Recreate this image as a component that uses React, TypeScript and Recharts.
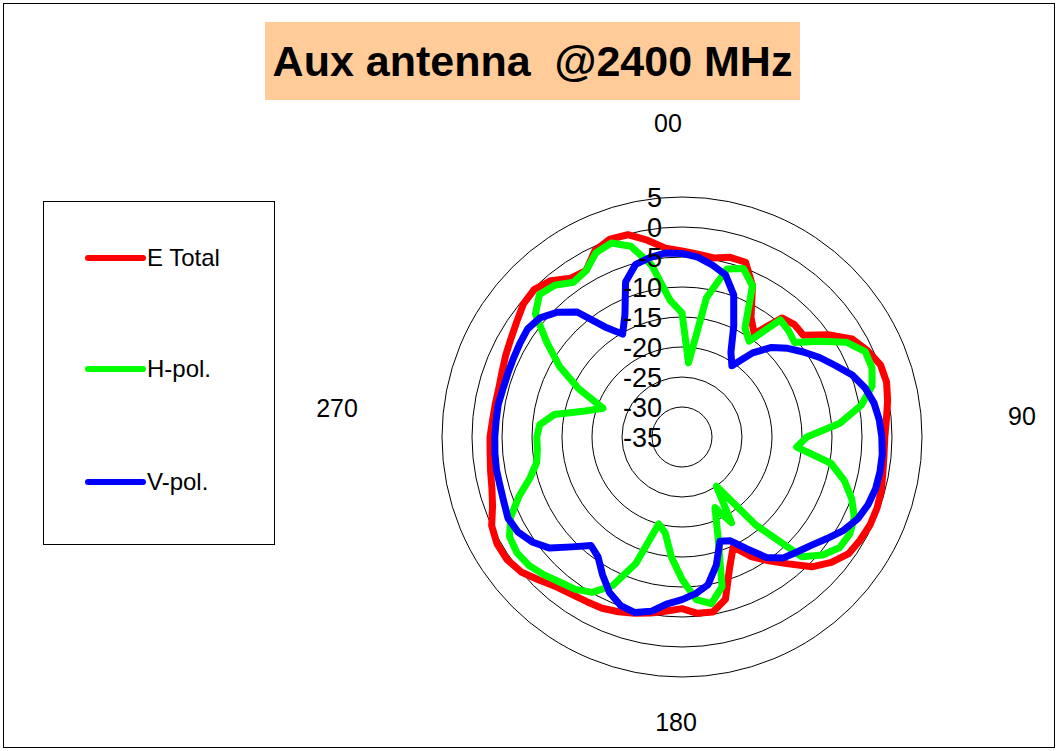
import { RadarChart, Radar, PolarGrid, PolarAngleAxis, PolarRadiusAxis, Legend } from "recharts";

const ANGLES = [
  0, 5, 10, 15, 20, 25, 30, 35, 40, 45, 50, 55, 60, 65, 70, 75, 80, 85,
  90, 95, 100, 105, 110, 115, 120, 125, 130, 135, 140, 145, 150, 155, 160, 165, 170, 175,
  180, 185, 190, 195, 200, 205, 210, 215, 220, 225, 230, 235, 240, 245, 250, 255, 260, 265,
  270, 275, 280, 285, 290, 295, 300, 305, 310, 315, 320, 325, 330, 335, 340, 345, 350, 355,
];

const E_TOTAL = [
  -4.0, -4.4, -4.7, -4.0, -4.0, -7.2, -12.0, -14.0, -9.1, -8.5, -8.6, -5.3, -2.3, -0.9, 0.2, 0.3, -0.2, -0.8,
  -1.2, -1.2, -1.0, -0.6, -0.4, -0.4, -0.7, -1.1, -2.5, -4.4, -7.4, -9.8, -12.0, -14.8, -11.8, -7.0, -5.4, -5.5,
  -6.4, -5.9, -5.2, -4.6, -4.0, -3.5, -3.3, -3.0, -2.4, -1.3, 0.0, 0.6, 0.6, 0.0, -1.4, -2.2, -2.6, -2.9,
  -3.0, -3.3, -3.4, -3.4, -3.1, -2.6, -2.1, -1.4, -0.5, -0.2, -1.0, -2.7, -3.0, -0.7, 0.1, -0.1, -1.7, -3.4,
];

const H_POL = [
  -14.3, -22.6, -11.4, -6.0, -5.1, -7.2, -14.0, -15.5, -9.5, -9.9, -10.5, -7.2, -3.4, -1.3, -1.3, -2.2, -4.7, -8.6,
  -14.2, -15.8, -9.8, -7.0, -4.9, -3.3, -2.7, -2.9, -4.4, -6.8, -15.8, -25.0, -18.5, -22.0, -17.5, -9.2, -6.8, -7.8,
  -11.3, -14.9, -18.8, -20.0, -12.6, -7.7, -5.1, -4.0, -3.4, -2.5, -1.7, -1.4, -1.8, -3.5, -6.1, -8.8, -10.4, -10.8,
  -10.8, -11.2, -13.4, -18.3, -21.0, -16.0, -11.4, -7.5, -3.1, -1.4, -2.0, -3.5, -3.0, -1.1, -0.6, -2.1, -5.9, -12.1,
];

const V_POL = [
  -4.4, -4.9, -5.9, -7.0, -9.8, -14.6, -18.7, -20.5, -16.7, -13.9, -12.0, -10.3, -8.5, -6.8, -4.8, -3.4, -2.5, -2.0,
  -1.7, -1.5, -1.5, -1.6, -2.0, -2.7, -3.9, -5.5, -6.9, -7.9, -8.7, -10.5, -13.5, -15.9, -16.5, -12.9, -10.0, -8.8,
  -7.9, -7.1, -5.5, -4.7, -5.1, -6.4, -8.5, -10.6, -11.4, -9.1, -6.2, -4.5, -3.4, -3.0, -3.4, -3.6, -3.6, -3.7,
  -3.8, -3.9, -3.9, -4.1, -4.1, -4.0, -3.8, -3.6, -4.1, -5.6, -7.8, -12.6, -15.2, -12.5, -7.5, -5.2, -4.6, -4.2,
];

const SERIES_NAMES = ["E Total", "H-pol.", "V-pol."];
const SERIES_COLORS = ["#ff0000", "#00ff00", "#0000ff"];
const ANGLE_LABELS: Record<number, string> = { 0: "00", 90: "90", 180: "180", 270: "270" };

const FONT = '"Liberation Sans", Arial, sans-serif';
const CX = 682;
const CY = 437;

// where Excel put the four compass labels, relative to the centre
const ANGLE_LABEL_OFFSET: Record<number, [number, number]> = {
  0: [-14, -314],
  90: [340, -21],
  180: [-6, 285],
  270: [-345, -29],
};

const data = ANGLES.map((a, i) => ({ angle: a, eTotal: E_TOTAL[i], hPol: H_POL[i], vPol: V_POL[i] }));

const AngleTick = (props: any) => {
  const v = props.payload?.value;
  if (!(v in ANGLE_LABELS)) return <g />;
  const [dx, dy] = ANGLE_LABEL_OFFSET[v];
  return (
    <text x={CX + dx} y={CY + dy} dy="0.36em" textAnchor="middle" fontSize={25} fontFamily={FONT} fill="#000">
      {ANGLE_LABELS[v]}
    </text>
  );
};

const RadiusTick = (props: any) => (
  <text x={props.x - 20} y={props.y} dy="0.36em" textAnchor="end" fontSize={27} fontFamily={FONT} fill="#000">
    {props.payload.value}
  </text>
);

const LegendBox = () => (
  <div style={{ width: 232, height: 344, border: "1px solid #000", boxSizing: "border-box", background: "#fff", position: "relative", fontFamily: FONT }}>
    {SERIES_NAMES.map((name, i) => (
      <div key={name} style={{ position: "absolute", left: 41, top: [56, 167, 280][i] - 14, height: 28, display: "flex", alignItems: "center" }}>
        <svg width={62} height={28}>
          <line x1={3} y1={14} x2={58} y2={14} stroke={SERIES_COLORS[i]} strokeWidth={6} strokeLinecap="round" />
        </svg>
        <span style={{ fontSize: 24, marginLeft: 0, color: "#000" }}>{name}</span>
      </div>
    ))}
  </div>
);

const App = () => {
  return (
    <div style={{ position: "absolute", left: 0, top: 0, width: 1060, height: 751, background: "#fff", fontFamily: FONT }}>
      <div style={{ position: "absolute", left: 3, top: 3, width: 1052, height: 745, border: "1px solid #000", boxSizing: "border-box" }} />
      <div
        style={{
          position: "absolute", left: 265, top: 22, width: 535, height: 78, background: "#ffcc99",
          display: "flex", alignItems: "center", justifyContent: "center",
          fontSize: 43, fontWeight: "bold", whiteSpace: "pre", color: "#000", zIndex: 2,
        }}
      >
        {"Aux antenna  @2400 MHz"}
      </div>
      <RadarChart
        width={1060}
        height={751}
        data={data}
        cx={CX}
        cy={CY}
        outerRadius={240}
        startAngle={90}
        endAngle={-270}
        margin={{ top: 0, right: 0, bottom: 0, left: 0 }}
      >
        <PolarGrid gridType="circle" radialLines={false} stroke="#000" strokeWidth={1} />
        <PolarAngleAxis dataKey="angle" tick={AngleTick} tickLine={false} axisLine={false} />
        <PolarRadiusAxis angle={90} type="number" domain={[-35, 5]} tickCount={9} axisLine={false} tickLine={false} tick={RadiusTick} />
        <Radar name={SERIES_NAMES[0]} dataKey="eTotal" stroke={SERIES_COLORS[0]} strokeWidth={7} strokeLinejoin="round" fill="none" fillOpacity={0} dot={false} isAnimationActive={false} />
        <Radar name={SERIES_NAMES[1]} dataKey="hPol" stroke={SERIES_COLORS[1]} strokeWidth={7} strokeLinejoin="round" fill="none" fillOpacity={0} dot={false} isAnimationActive={false} />
        <Radar name={SERIES_NAMES[2]} dataKey="vPol" stroke={SERIES_COLORS[2]} strokeWidth={7} strokeLinejoin="round" fill="none" fillOpacity={0} dot={false} isAnimationActive={false} />
        <Legend content={LegendBox} wrapperStyle={{ position: "absolute", left: 43, top: 201, width: 232, height: 344 }} />
      </RadarChart>
    </div>
  );
};

export default App;
